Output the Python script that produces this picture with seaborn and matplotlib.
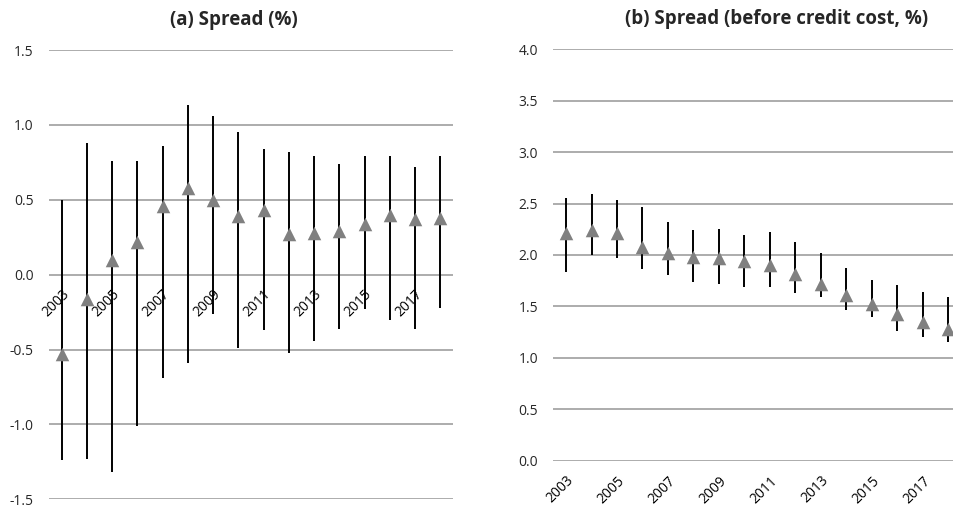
import matplotlib
matplotlib.use("Agg")
import matplotlib.pyplot as plt
import seaborn as sns
import pandas as pd
import numpy as np

years = [str(y) for y in range(2003, 2019)]

# Panel (a): Spread (%)
spread_mid = [-0.53, -0.16, 0.10, 0.22, 0.46, 0.58, 0.50, 0.39, 0.43, 0.27, 0.28, 0.29, 0.34, 0.40, 0.37, 0.375]
spread_hi = [0.50, 0.88, 0.76, 0.76, 0.86, 1.13, 1.06, 0.95, 0.84, 0.82, 0.79, 0.74, 0.79, 0.79, 0.72, 0.79]
spread_lo = [-1.24, -1.23, -1.32, -1.01, -0.69, -0.59, -0.26, -0.49, -0.37, -0.52, -0.44, -0.36, -0.23, -0.30, -0.36, -0.22]

# Panel (b): Spread before credit cost (%)
pre_mid = [2.21, 2.24, 2.21, 2.08, 2.02, 1.98, 1.97, 1.94, 1.90, 1.82, 1.72, 1.61, 1.52, 1.43, 1.35, 1.28]
pre_hi = [2.55, 2.59, 2.53, 2.47, 2.32, 2.24, 2.25, 2.19, 2.22, 2.13, 2.02, 1.87, 1.76, 1.71, 1.64, 1.59]
pre_lo = [1.83, 2.00, 1.97, 1.86, 1.81, 1.74, 1.72, 1.69, 1.69, 1.63, 1.59, 1.47, 1.40, 1.26, 1.20, 1.15]

titles = ["(a) Spread (%)", "(b) Spread (before credit cost, %)"]
yticks_a = [-1.5, -1.0, -0.5, 0.0, 0.5, 1.0, 1.5]
yticks_b = [0.0, 0.5, 1.0, 1.5, 2.0, 2.5, 3.0, 3.5, 4.0]

sns.set_style("white")
plt.rcParams["font.family"] = ["Open Sans", "DejaVu Sans"]

fig = plt.figure(figsize=(9.54, 5.12), dpi=100)
ax_a = fig.add_axes([49 / 954, 1 - 499.3 / 512, (453 - 49) / 954, (499.3 - 50) / 512])
ax_b = fig.add_axes([553.3 / 954, 1 - 460.7 / 512, (961 - 553.3) / 954, (460.7 - 49.3) / 512])

GRID = "#a6a6a6"
MARK = "#808080"

def draw(ax, mid, lo, hi, yticks, cross_zero):
    df = pd.DataFrame({"pos": np.arange(len(years)), "year": years, "mid": mid, "lo": lo, "hi": hi})
    for s in ax.spines.values():
        s.set_visible(False)
    if cross_zero:
        ax.spines["bottom"].set_position(("data", 0))
    for yt in yticks:
        ax.axhline(yt, color=GRID, lw=1.3, zorder=0)
    ax.vlines(df["pos"], df["lo"], df["hi"], color="black", lw=1.4, zorder=2)
    sns.scatterplot(data=df, x="pos", y="mid", marker="^", s=95, color=MARK,
                    edgecolor=MARK, linewidth=0, ax=ax, zorder=3, legend=False)
    ax.set_xlim(-0.5, len(years) - 0.5)
    ax.set_ylim(yticks[0], yticks[-1])
    ax.set_yticks(yticks)
    ax.set_yticklabels([f"{v:.1f}" for v in yticks], fontsize=10, color="#262626")
    ax.set_xticks(df["pos"][::2])
    ax.set_xticklabels(df["year"][::2], rotation=45, ha="right", va="top",
                       rotation_mode="anchor", fontsize=10, color="black")
    ax.tick_params(axis="both", length=0)
    ax.tick_params(axis="y", pad=11)
    ax.tick_params(axis="x", pad=9)
    ax.set_xlabel("")
    ax.set_ylabel("")

draw(ax_a, spread_mid, spread_lo, spread_hi, yticks_a, True)
draw(ax_b, pre_mid, pre_lo, pre_hi, yticks_b, False)

fig.text(234 / 954, 1 - 20 / 512, titles[0], ha="center", va="center",
         fontsize=13.5, fontweight="bold")
fig.text(777 / 954, 1 - 19 / 512, titles[1], ha="center", va="center",
         fontsize=13.5, fontweight="bold")

fig.savefig("out.png", dpi=100)
